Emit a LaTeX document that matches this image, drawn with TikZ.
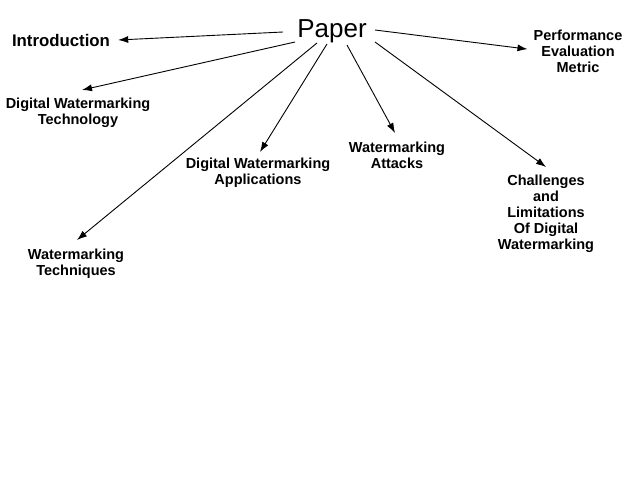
\documentclass[tikz,border=0pt]{standalone}
\usepackage{fontspec}
\setmainfont{Liberation Sans}
\usetikzlibrary{arrows.meta}
\tikzset{
  lbl/.style={inner sep=0pt, align=center, font=\fontsize{14.5}{16}\selectfont\bfseries, anchor=north},
  conn/.style={line width=0.9pt, -{Latex[length=10pt,width=7pt]}}
}
\begin{document}
\begin{tikzpicture}[x=1pt,y=-1pt]
\fill[white] (0,0) rectangle (638,479);
\useasboundingbox (0,0) rectangle (638,479);
\node[inner sep=0pt, anchor=base, font=\fontsize{26}{30}\selectfont] (paper) at (332,37) {Paper};
\node[inner sep=0pt, anchor=base, font=\fontsize{16.8}{18}\selectfont\bfseries] (intro) at (61,46) {Introduction};
\node[lbl] (dwt) at (78,97.6) {Digital Watermarking\\Technology};
\node[lbl] (tech) at (76,248.6) {Watermarking\\Techniques};
\node[lbl] (app) at (258,157.6) {Digital Watermarking\\Applications};
\node[lbl] (att) at (397,141.6) {Watermarking\\Attacks};
\node[lbl] (chal) at (546,174.6) {Challenges\\and\\Limitations\\Of Digital\\Watermarking};
\node[lbl] (perf) at (578,29.6) {Performance\\Evaluation\\Metric};
\draw[conn] ([shift={(-49,-5)}]paper.base) -- ([shift={(8,0)}]intro.east);
\draw[conn] ([shift={(-37,5)}]paper.base) -- ([shift={(4,-7.6)}]dwt.north);
\draw[conn] ([shift={(-15,6)}]paper.base) -- ([shift={(1,-8.6)}]tech.north);
\draw[conn] ([shift={(-5,7)}]paper.base) -- ([shift={(2,-5.6)}]app.north);
\draw[conn] ([shift={(15,8)}]paper.base) -- ([shift={(-2,-8.6)}]att.north);
\draw[conn] ([shift={(43,5)}]paper.base) -- ([shift={(0,-7.6)}]chal.north);
\draw[conn] ([shift={(43,-7)}]paper.base) -- ([shift={(-6,-2)}]perf.west);
\end{tikzpicture}
\end{document}
